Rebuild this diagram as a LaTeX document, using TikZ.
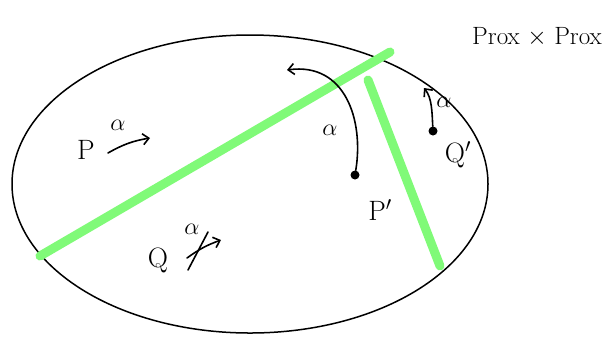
\RequirePackage{fix-cm}
\documentclass[tikz,border=0pt]{standalone}
\usetikzlibrary{arrows.meta,shapes.geometric}
\definecolor{lgreen}{RGB}{128,250,120}
\tikzset{
  wall/.style={lgreen, line width=9pt, line cap=round},
  hand/.style={black, line width=1.6pt, line cap=round},
  harrow/.style={hand, -{Straight Barb[length=6pt,width=11pt]}},
  lbl/.style={inner sep=1pt, font=\fontsize{28}{30}\selectfont},
  ttl/.style={inner sep=1pt, font=\fontsize{25}{27}\selectfont},
  sml/.style={inner sep=1pt, font=\fontsize{24}{26}\selectfont},
  dot/.style={circle, fill=black, inner sep=0pt, minimum size=9pt}
}
\begin{document}
\begin{tikzpicture}[x=1pt,y=-1pt]
\useasboundingbox (0,0) rectangle (609,346);
% space
\node[draw=black, line width=1.5pt, ellipse, minimum width=476pt, minimum height=298pt, inner sep=0pt] (space) at (250,184) {};
% walls
\coordinate (w1a) at (40,256);
\coordinate (w1b) at (390,52);
\coordinate (w2a) at (368,80);
\coordinate (w2b) at (440,266);
\draw[wall] (w1a) -- (w1b);
\draw[wall] (w2a) -- (w2b);
% title
\node[ttl] (title) at (537,37) {Prox $\times$ Prox};
% P region
\node[lbl] (P) at (86,150) {P};
\coordinate (pa1) at (108,153);
\coordinate (pa2) at (150,138);
\draw[harrow] (pa1) to[bend left=10] (pa2);
\node[sml] (pal) at (118,125) {$\alpha$};
% Q region
\node[lbl] (Q) at (158,260) {Q};
\coordinate (qa1) at (187,258);
\coordinate (qa2) at (221,240);
\draw[harrow] (qa1) to[bend left=8] (qa2);
\coordinate (qs1) at (188,270);
\coordinate (qs2) at (208,232);
\draw[hand] (qs1) -- (qs2);
\node[sml] (qal) at (192,229) {$\alpha$};
% P' point
\node[dot] (pp) at (355,175) {};
\coordinate (ppend) at (287,70);
\draw[harrow] (pp) .. controls (364,120) and (345,62) .. (ppend);
\node[sml] (ppal) at (330,130) {$\alpha$};
\node[lbl] (ppl) at (380,210) {P$'$};
% Q' point
\node[dot] (qp) at (433,131) {};
\coordinate (qpend) at (424,88);
\draw[harrow] (qp) .. controls (432,112) and (432,98) .. (qpend);
\node[sml] (qpal) at (444,102) {$\alpha$};
\node[lbl] (qpl) at (458,155) {Q$'$};
\end{tikzpicture}
\end{document}
